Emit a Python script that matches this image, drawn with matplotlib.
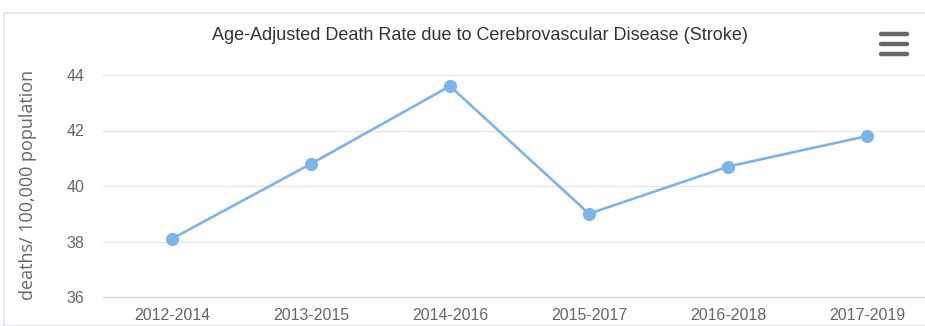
import matplotlib
matplotlib.use("Agg")
import matplotlib.pyplot as plt
from matplotlib.patches import Rectangle
from matplotlib.lines import Line2D

# data
periods = ['2012-2014', '2013-2015', '2014-2016', '2015-2017', '2016-2018', '2017-2019']
rates = [38.1, 40.8, 43.6, 39.0, 40.7, 41.8]
yticks = [36, 38, 40, 42, 44]

narrow = ['Liberation Sans', 'DejaVu Sans']
W, H = 925, 326

fig = plt.figure(figsize=(W / 100, H / 100), dpi=100)

# outer border of the chart container
fig.patches.append(Rectangle((4 / W, 0), 1, (H - 13) / H, transform=fig.transFigure,
                             fill=False, edgecolor='#dde5f2', linewidth=1.2))

ax = fig.add_axes([102.5 / W, 29 / H, 834 / W, 222 / H])
x = list(range(len(periods)))
ax.plot(x, rates, color='#7cb5ec', linewidth=1.9, marker='o', markersize=8.5, zorder=3)

ax.set_xlim(-0.5, len(periods) - 0.5)
ax.set_ylim(36, 44)
ax.set_yticks(yticks)
ax.set_xticks(x)
ax.set_xticklabels(periods)
ax.grid(axis='y', color='#e6e6e6', linewidth=1)
ax.set_axisbelow(True)
for s in ['top', 'right', 'left']:
    ax.spines[s].set_visible(False)
ax.spines['bottom'].set_color('#ccd6eb')
ax.tick_params(axis='both', length=0, colors='#666666')
ax.tick_params(axis='x', pad=8)
ax.tick_params(axis='y', pad=13)
for lab in ax.get_xticklabels() + ax.get_yticklabels():
    lab.set_family(narrow)
    lab.set_fontsize(11.5)

fig.text(28 / W, (H - 185) / H, 'deaths/ 100,000 population', rotation=90, ha='center', va='center',
         fontsize=13, color='#666666', family=['Open Sans', 'DejaVu Sans'])
fig.text(480 / W, (H - 35) / H, 'Age-Adjusted Death Rate due to Cerebrovascular Disease (Stroke)',
         ha='center', va='center', fontsize=13, color='#333333', family=narrow)

# menu button
for yy in [34, 44, 54]:
    fig.lines.append(Line2D([881 / W, 907 / W], [(H - yy) / H, (H - yy) / H],
                            transform=fig.transFigure, color='#666666', linewidth=3.2,
                            solid_capstyle='round'))

fig.savefig('out.png', dpi=100)
